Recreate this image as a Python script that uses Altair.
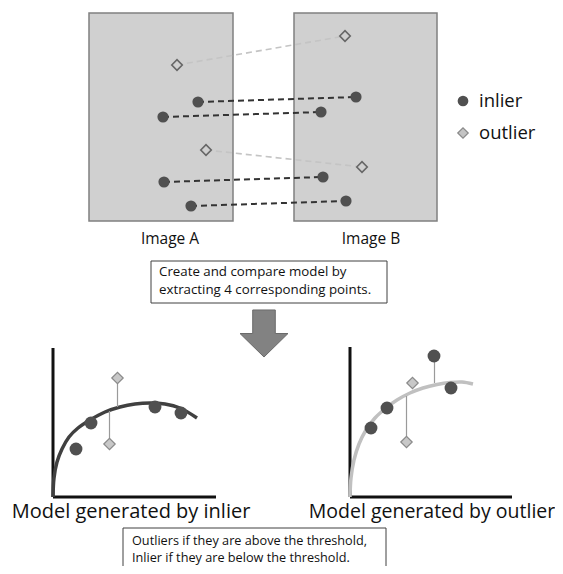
import altair as alt
import pandas as pd

# ---------------- data (diagram coordinates, pixel-like units) ----------------
panel_names = ["Image A", "Image B"]
panel_x0 = [89, 294]
panel_x1 = [233, 437]
panel_y0 = [13, 13]
panel_y1 = [221, 221]
panel_label_x = [170, 371]
panel_label_y = [239, 239]

inlier_a_x = [198, 163, 164, 191]
inlier_a_y = [102, 117, 182, 206]
inlier_b_x = [356, 321, 323, 346]
inlier_b_y = [97, 112, 177, 201]
outlier_a_x = [177, 206]
outlier_a_y = [65, 150]
outlier_b_x = [345, 362]
outlier_b_y = [36, 167]

legend_labels = ["inlier", "outlier"]
legend_x = [463, 463]
legend_y = [101, 133]

box1_lines = ["Create and compare model by", "extracting 4 corresponding points."]
box1_rect = [151, 261, 387, 303]
box1_text_y = [272, 290]
box2_lines = ["Outliers if they are above the threshold,", "Inlier if they are below the threshold."]
box2_rect = [123, 528, 386, 590]
box2_text_y = [540.5, 558]

arrow_center = [264, 333.5]

# model panels
axis_left = [53, 348, 53, 497, 216]     # x, y_top, x_origin, y_axis, x_end
axis_right = [350, 347, 350, 497, 512]

curve_in_x = [53, 54, 57, 62, 69, 78, 90, 105, 120, 135, 150, 165, 180, 197]
curve_in_y = [497, 478, 462, 449, 437, 428, 420, 412, 407, 404, 403, 404, 408, 418]
curve_out_x = [350, 351, 354, 359, 366, 375, 386, 397, 410, 423, 437, 450, 462, 473]
curve_out_y = [497, 478, 460, 444, 430, 418, 408, 400, 393, 388, 384.5, 382.5, 382, 384]

m_in_inl_x = [76, 91, 155, 181]
m_in_inl_y = [449, 423, 407, 413]
m_in_out_x = [117.5, 109.5]
m_in_out_y = [378, 444]
m_in_res_y0 = [383, 411]
m_in_res_y1 = [407, 444]

m_out_inl_x = [371, 387, 434, 451]
m_out_inl_y = [428, 408, 356, 388]
m_out_out_x = [412.5, 406.5]
m_out_out_y = [383, 442]
res_out_x = [434.5, 406.5]
res_out_y0 = [356, 396]
res_out_y1 = [383, 442]

captions = ["Model generated by inlier", "Model generated by outlier"]
caption_x = [131, 432]
caption_y = [512, 512]
caption_size = [20, 19.5]

FONT = "Open Sans"

# ---------------- scales ----------------
xs = alt.Scale(domain=[8, 555], nice=False, zero=False)
ys = alt.Scale(domain=[8, 566], nice=False, zero=False, reverse=True)


def X(f="x"):
    return alt.X(f, type="quantitative", scale=xs, axis=None)


def Y(f="y"):
    return alt.Y(f, type="quantitative", scale=ys, axis=None)


def X2(f="x2"):
    return alt.X2(f)


def Y2(f="y2"):
    return alt.Y2(f)


layers = []

# panels
panels = pd.DataFrame({"name": panel_names, "x": panel_x0, "x2": panel_x1,
                       "y": panel_y0, "y2": panel_y1})
layers.append(alt.Chart(panels).mark_rect(fill="#d0d0d0", stroke="#808080", strokeWidth=1.5)
              .encode(x=X(), x2=X2(), y=Y(), y2=Y2()))

# correspondence lines
inl_lines = pd.DataFrame({"x": inlier_a_x, "y": inlier_a_y, "x2": inlier_b_x, "y2": inlier_b_y})
out_lines = pd.DataFrame({"x": outlier_a_x, "y": outlier_a_y, "x2": outlier_b_x, "y2": outlier_b_y})
layers.append(alt.Chart(out_lines).mark_rule(color="#c4c4c4", strokeWidth=1.6, strokeDash=[6, 4])
              .encode(x=X(), y=Y(), x2=X2(), y2=Y2()))
layers.append(alt.Chart(inl_lines).mark_rule(color="#333333", strokeWidth=2, strokeDash=[6, 4])
              .encode(x=X(), y=Y(), x2=X2(), y2=Y2()))

# points in images
inl_pts = pd.DataFrame({"x": inlier_a_x + inlier_b_x, "y": inlier_a_y + inlier_b_y})
out_pts = pd.DataFrame({"x": outlier_a_x + outlier_b_x, "y": outlier_a_y + outlier_b_y})
layers.append(alt.Chart(inl_pts).mark_point(shape="circle", filled=True, fill="#505050",
                                             opacity=1, size=125, strokeWidth=0)
              .encode(x=X(), y=Y()))
layers.append(alt.Chart(out_pts).mark_point(shape="diamond", filled=False, fill="#d0d0d0",
                                             stroke="#666666", strokeWidth=1.6, opacity=1, size=110)
              .encode(x=X(), y=Y()))

# panel labels
plab = pd.DataFrame({"t": panel_names, "x": panel_label_x, "y": panel_label_y})
layers.append(alt.Chart(plab).mark_text(font=FONT, fontSize=15.5, color="#111111", baseline="middle")
              .encode(x=X(), y=Y(), text="t:N"))

# legend
leg = pd.DataFrame({"t": legend_labels, "x": legend_x, "y": legend_y})
layers.append(alt.Chart(leg.iloc[[0]]).mark_point(shape="circle", filled=True, fill="#505050",
                                                   opacity=1, size=115, strokeWidth=0)
              .encode(x=X(), y=Y()))
layers.append(alt.Chart(leg.iloc[[1]]).mark_point(shape="diamond", filled=True, fill="#c4c4c4",
                                                   stroke="#8a8a8a", strokeWidth=1.2, opacity=1, size=110)
              .encode(x=X(), y=Y()))
layers.append(alt.Chart(leg).mark_text(font=FONT, fontSize=18.5, color="#111111", align="left",
                                       baseline="middle", dx=16)
              .encode(x=X(), y=Y(), text="t:N"))

# text boxes
b1 = pd.DataFrame({"x": [box1_rect[0]], "y": [box1_rect[1]], "x2": [box1_rect[2]], "y2": [box1_rect[3]]})
b2 = pd.DataFrame({"x": [box2_rect[0]], "y": [box2_rect[1]], "x2": [box2_rect[2]], "y2": [box2_rect[3]]})
for b in (b1, b2):
    layers.append(alt.Chart(b).mark_rect(fill="white", stroke="#404040", strokeWidth=1)
                  .encode(x=X(), x2=X2(), y=Y(), y2=Y2()))
t1 = pd.DataFrame({"t": box1_lines, "x": [box1_rect[0] + 8] * 2, "y": box1_text_y})
t2 = pd.DataFrame({"t": box2_lines, "x": [box2_rect[0] + 9] * 2, "y": box2_text_y})
for t, fs in ((t1, 13.3), (t2, 12.7)):
    layers.append(alt.Chart(t).mark_text(font=FONT, fontSize=fs, color="#111111", align="left",
                                         baseline="middle")
                  .encode(x=X(), y=Y(), text="t:N"))

# arrow
arrow_path = "M-0.47,-0.98 L0.47,-0.98 L0.47,0 L1,0 L0,0.98 L-1,0 L-0.47,0 Z"
arr = pd.DataFrame({"x": [arrow_center[0]], "y": [arrow_center[1]]})
layers.append(alt.Chart(arr).mark_point(shape=arrow_path, filled=True, fill="#828282",
                                         stroke="#6a6a6a", strokeWidth=1, opacity=1, size=2304)
              .encode(x=X(), y=Y()))

# model axes
ax_rows = []
for a in (axis_left, axis_right):
    ax_rows.append({"x": a[0], "y": a[1], "x2": a[0], "y2": a[3]})
    ax_rows.append({"x": a[2], "y": a[3], "x2": a[4], "y2": a[3]})
layers.append(alt.Chart(pd.DataFrame(ax_rows)).mark_rule(color="#111111", strokeWidth=3)
              .encode(x=X(), y=Y(), x2=X2(), y2=Y2()))

# curves
cin = pd.DataFrame({"x": curve_in_x, "y": curve_in_y, "i": range(len(curve_in_x))})
cout = pd.DataFrame({"x": curve_out_x, "y": curve_out_y, "i": range(len(curve_out_x))})
layers.append(alt.Chart(cin).mark_line(color="#404040", strokeWidth=3.5, interpolate="catmull-rom")
              .encode(x=X(), y=Y(), order="i:Q"))
layers.append(alt.Chart(cout).mark_line(color="#c0c0c0", strokeWidth=3.5, interpolate="catmull-rom")
              .encode(x=X(), y=Y(), order="i:Q"))

# residual lines
res = pd.DataFrame({
    "x": m_in_out_x + res_out_x,
    "y": m_in_res_y0 + res_out_y0,
    "x2": m_in_out_x + res_out_x,
    "y2": m_in_res_y1 + res_out_y1,
})
layers.append(alt.Chart(res).mark_rule(color="#9a9a9a", strokeWidth=1.2)
              .encode(x=X(), y=Y(), x2=X2(), y2=Y2()))

# model points
minl = pd.DataFrame({"x": m_in_inl_x + m_out_inl_x, "y": m_in_inl_y + m_out_inl_y})
mout = pd.DataFrame({"x": m_in_out_x + m_out_out_x, "y": m_in_out_y + m_out_out_y})
layers.append(alt.Chart(minl).mark_point(shape="circle", filled=True, fill="#505050",
                                          opacity=1, size=165, strokeWidth=0)
              .encode(x=X(), y=Y()))
layers.append(alt.Chart(mout).mark_point(shape="diamond", filled=True, fill="#c8c8c8",
                                          stroke="#8a8a8a", strokeWidth=1.2, opacity=1, size=130)
              .encode(x=X(), y=Y()))

# captions
cap = pd.DataFrame({"t": captions, "x": caption_x, "y": caption_y, "s": caption_size})
layers.append(alt.Chart(cap).mark_text(font=FONT, color="#111111", baseline="middle")
              .encode(x=X(), y=Y(), text="t:N",
                      size=alt.Size("s:Q", scale=None, legend=None)))

chart = alt.layer(*layers).properties(
    width=547, height=558, padding=0, autosize=alt.AutoSizeParams(type="none"),
    background="white"
).configure_view(stroke=None)

chart.save("out.html", embed_options={"renderer": "svg", "actions": False})
